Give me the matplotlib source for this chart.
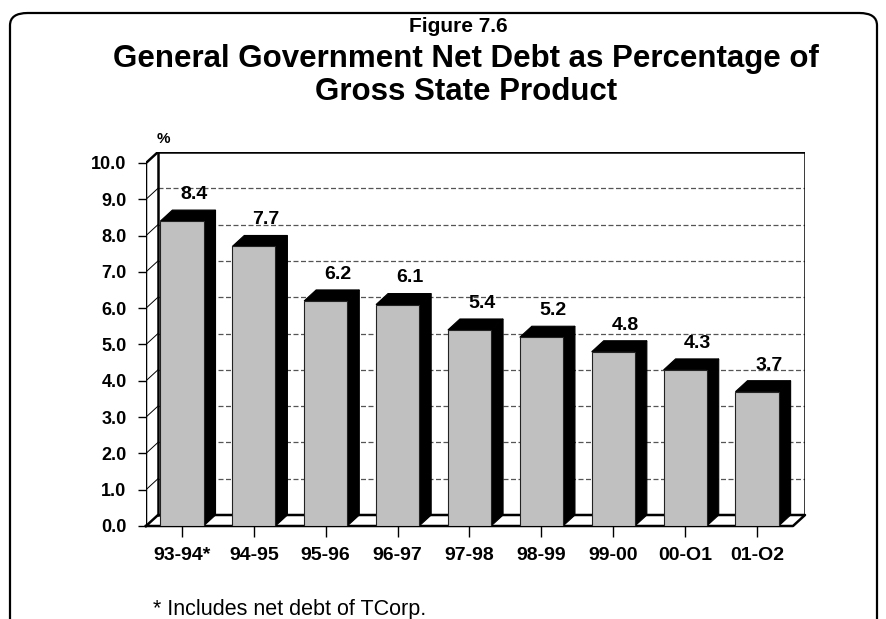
import matplotlib.pyplot as plt
from matplotlib.patches import Polygon, FancyBboxPatch

plt.rcParams['font.family'] = ['Liberation Sans', 'DejaVu Sans']

# data
years = ["93-94*", "94-95", "95-96", "96-97", "97-98", "98-99", "99-00", "00-O1", "01-O2"]
debt_pct = [8.4, 7.7, 6.2, 6.1, 5.4, 5.2, 4.8, 4.3, 3.7]
y_ticks = [0.0, 1.0, 2.0, 3.0, 4.0, 5.0, 6.0, 7.0, 8.0, 9.0, 10.0]
y_labels = ["0.0", "1.0", "2.0", "3.0", "4.0", "5.0", "6.0", "7.0", "8.0", "9.0", "10.0"]

W, H = 886, 619
fig = plt.figure(figsize=(W / 100, H / 100), dpi=100)


def fx(px):
    return px / W


def fy(py):
    return 1 - py / H


# rounded frame, open at the bottom edge of the image
frame = FancyBboxPatch((fx(10), fy(660)), fx(877) - fx(10), fy(13) - fy(660),
                       boxstyle="round,pad=0,rounding_size=0.02",
                       transform=fig.transFigure, fill=False, lw=1.6, ec='black')
fig.patches.append(frame)

fig.text(fx(458), fy(32), "Figure 7.6", ha='center', va='baseline',
         fontsize=15, fontweight='bold')
fig.text(fx(466), fy(67), "General Government Net Debt as Percentage of",
         ha='center', va='baseline', fontsize=22.5, fontweight='bold')
fig.text(fx(466), fy(100), "Gross State Product",
         ha='center', va='baseline', fontsize=22.5, fontweight='bold')
fig.text(fx(163), fy(139), "%", ha='center', va='center', fontsize=11, fontweight='bold')
fig.text(fx(153), fy(615), "* Includes net debt of TCorp.", ha='left', va='baseline',
         fontsize=15.5)

# axes = front plane of the 3d box
DX, DY = 0.167, 0.303
ax = fig.add_axes([fx(146), fy(526), fx(805) - fx(146), fy(152) - fy(526)])
ax.set_xlim(-0.5, len(years) - 0.5 + DX)
ax.set_ylim(0, 10 + DY)
for s in ax.spines.values():
    s.set_visible(False)
ax.patch.set_visible(False)

x0, x1 = -0.5, len(years) - 0.5

# back wall gridlines
for t in y_ticks[1:-1]:
    ax.plot([x0 + DX, x1 + DX], [t + DY, t + DY], color='#555555', lw=0.9,
            ls=(0, (4, 2)), zorder=1)
    ax.plot([x0, x0 + DX], [t, t + DY], color='black', lw=0.7, zorder=1)

# back wall outline
ax.plot([x0 + DX, x0 + DX, x1 + DX, x1 + DX], [DY, 10 + DY, 10 + DY, DY],
        color='black', lw=1.8, zorder=2)
# left side wall / front axis
ax.plot([x0, x0, x0 + DX], [0, 10, 10 + DY], color='black', lw=1.8, zorder=2)
# floor
ax.plot([x0, x1, x1 + DX, x0 + DX, x0], [0, 0, DY, DY, 0],
        color='black', lw=1.8, zorder=2, clip_on=False)

# bars
xs = list(range(len(years)))
ax.bar(xs, debt_pct, width=0.6, color='#C0C0C0', edgecolor='#222222', lw=0.8, zorder=4)
for x, v in zip(xs, debt_pct):
    l, r = x - 0.3, x + 0.3
    top = Polygon([(l, v), (r, v), (r + DX, v + DY), (l + DX, v + DY)],
                  closed=True, fc='black', ec='black', lw=0.8, zorder=3)
    side = Polygon([(r, 0), (r + DX, DY), (r + DX, v + DY), (r, v)],
                   closed=True, fc='black', ec='black', lw=0.8, zorder=3)
    ax.add_patch(top)
    ax.add_patch(side)
    ax.annotate(f"{v:.1f}", (x + DX, v + DY), xytext=(0, 8), textcoords='offset points',
                ha='center', va='baseline', fontsize=14, fontweight='bold')

ax.set_yticks(y_ticks, y_labels)
ax.set_xticks(xs, years)
ax.tick_params(axis='y', direction='out', length=6, width=1, pad=8, labelsize=13)
ax.tick_params(axis='x', direction='out', length=8, width=1, pad=7, labelsize=14)
for lab in ax.get_xticklabels() + ax.get_yticklabels():
    lab.set_fontweight('bold')

fig.savefig("out.png", dpi=100)
